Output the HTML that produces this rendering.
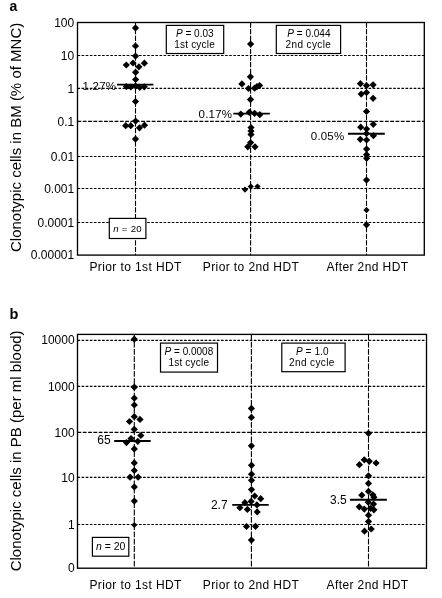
<!DOCTYPE html>
<html><head><meta charset="utf-8"><style>html,body{margin:0;padding:0;background:#fff;width:442px;height:598px;overflow:hidden;font-family:"Liberation Sans",sans-serif}</style></head><body>
<svg width="442" height="598" viewBox="0 0 442 598" style="display:block;filter:grayscale(1)">
<rect x="0" y="0" width="442" height="598" fill="#fff"/>
<line x1="77.5" y1="55.5" x2="424.3" y2="55.5" stroke="#000" stroke-width="1.15" stroke-dasharray="2.6 1.5"/>
<line x1="77.5" y1="88.4" x2="424.3" y2="88.4" stroke="#000" stroke-width="1.15" stroke-dasharray="2.6 1.5"/>
<line x1="77.5" y1="121.4" x2="424.3" y2="121.4" stroke="#000" stroke-width="1.15" stroke-dasharray="3.8 1.5"/>
<line x1="77.5" y1="156.5" x2="424.3" y2="156.5" stroke="#000" stroke-width="1.15" stroke-dasharray="2.6 1.5"/>
<line x1="77.5" y1="188.5" x2="424.3" y2="188.5" stroke="#000" stroke-width="1.15" stroke-dasharray="2.6 1.5"/>
<line x1="77.5" y1="222.5" x2="424.3" y2="222.5" stroke="#000" stroke-width="1.15" stroke-dasharray="2.6 1.5"/>
<line x1="135.5" y1="22.5" x2="135.5" y2="255.1" stroke="#000" stroke-width="1.1" stroke-dasharray="5.2 1.4"/>
<line x1="250.6" y1="22.5" x2="250.6" y2="255.1" stroke="#000" stroke-width="1.1" stroke-dasharray="5.2 1.4"/>
<line x1="366.5" y1="22.5" x2="366.5" y2="255.1" stroke="#000" stroke-width="1.1" stroke-dasharray="5.2 1.4"/>
<rect x="166.3" y="25.4" width="57.40" height="28.10" fill="#fff" stroke="#000" stroke-width="1.2"/>
<text x="194.8" y="36.9" text-anchor="middle" font-size="10" letter-spacing="0" font-family="Liberation Sans, sans-serif"><tspan font-style="italic">P</tspan> = 0.03</text>
<text x="194.6" y="47.8" text-anchor="middle" font-size="10" letter-spacing="0.2" font-family="Liberation Sans, sans-serif">1st cycle</text>
<rect x="276.3" y="25.4" width="64.30" height="28.10" fill="#fff" stroke="#000" stroke-width="1.2"/>
<text x="308.9" y="36.9" text-anchor="middle" font-size="10" letter-spacing="0" font-family="Liberation Sans, sans-serif"><tspan font-style="italic">P</tspan> = 0.044</text>
<text x="308.4" y="47.8" text-anchor="middle" font-size="10" letter-spacing="0.4" font-family="Liberation Sans, sans-serif">2nd cycle</text>
<rect x="109.3" y="218.4" width="36.60" height="20.10" fill="#fff" stroke="#000" stroke-width="1.2"/>
<text x="127.6" y="232.4" text-anchor="middle" font-size="9.6" letter-spacing="0.25" font-family="Liberation Sans, sans-serif"><tspan font-style="italic">n</tspan> = 20</text>
<rect x="77.5" y="22.5" width="346.80" height="232.60" fill="none" stroke="#000" stroke-width="1.35"/>
<text x="74.2" y="26.80" text-anchor="end" font-size="12" font-family="Liberation Sans, sans-serif">100</text>
<text x="74.2" y="59.80" text-anchor="end" font-size="12" font-family="Liberation Sans, sans-serif">10</text>
<text x="74.2" y="92.70" text-anchor="end" font-size="12" font-family="Liberation Sans, sans-serif">1</text>
<text x="74.2" y="125.70" text-anchor="end" font-size="12" font-family="Liberation Sans, sans-serif">0.1</text>
<text x="74.2" y="160.80" text-anchor="end" font-size="12" font-family="Liberation Sans, sans-serif">0.01</text>
<text x="74.2" y="192.80" text-anchor="end" font-size="12" font-family="Liberation Sans, sans-serif">0.001</text>
<text x="74.2" y="226.80" text-anchor="end" font-size="12" font-family="Liberation Sans, sans-serif">0.0001</text>
<text x="74.2" y="259.10" text-anchor="end" font-size="12" font-family="Liberation Sans, sans-serif">0.00001</text>
<line x1="117.0" y1="84.6" x2="153.5" y2="84.6" stroke="#000" stroke-width="1.9"/>
<line x1="233.3" y1="113.6" x2="269.8" y2="113.6" stroke="#000" stroke-width="1.9"/>
<line x1="348.0" y1="133.7" x2="384.8" y2="133.7" stroke="#000" stroke-width="1.9"/>
<text x="116.2" y="89.6" text-anchor="end" font-size="11.5" letter-spacing="0.2" font-family="Liberation Sans, sans-serif">1.27%</text>
<text x="232.2" y="118.0" text-anchor="end" font-size="11.5" letter-spacing="0.2" font-family="Liberation Sans, sans-serif">0.17%</text>
<text x="344.4" y="139.8" text-anchor="end" font-size="11.5" letter-spacing="0.2" font-family="Liberation Sans, sans-serif">0.05%</text>
<g fill="#000">
<path d="M135.50 24.30L139.10 27.90L135.50 31.50L131.90 27.90Z"/>
<path d="M135.50 42.40L139.10 46.00L135.50 49.60L131.90 46.00Z"/>
<path d="M135.50 52.50L139.10 56.10L135.50 59.70L131.90 56.10Z"/>
<path d="M126.30 61.40L129.90 65.00L126.30 68.60L122.70 65.00Z"/>
<path d="M133.00 59.40L136.60 63.00L133.00 66.60L129.40 63.00Z"/>
<path d="M138.90 63.20L142.50 66.80L138.90 70.40L135.30 66.80Z"/>
<path d="M144.40 59.60L148.00 63.20L144.40 66.80L140.80 63.20Z"/>
<path d="M135.60 68.70L139.20 72.30L135.60 75.90L132.00 72.30Z"/>
<path d="M135.60 75.90L139.20 79.50L135.60 83.10L132.00 79.50Z"/>
<path d="M126.30 83.00L129.90 86.60L126.30 90.20L122.70 86.60Z"/>
<path d="M130.80 83.40L134.40 87.00L130.80 90.60L127.20 87.00Z"/>
<path d="M135.50 82.40L139.10 86.00L135.50 89.60L131.90 86.00Z"/>
<path d="M139.80 83.70L143.40 87.30L139.80 90.90L136.20 87.30Z"/>
<path d="M144.30 83.20L147.90 86.80L144.30 90.40L140.70 86.80Z"/>
<path d="M135.50 97.90L139.10 101.50L135.50 105.10L131.90 101.50Z"/>
<path d="M135.60 117.50L139.20 121.10L135.60 124.70L132.00 121.10Z"/>
<path d="M125.70 122.10L129.30 125.70L125.70 129.30L122.10 125.70Z"/>
<path d="M130.70 122.10L134.30 125.70L130.70 129.30L127.10 125.70Z"/>
<path d="M139.50 124.20L143.10 127.80L139.50 131.40L135.90 127.80Z"/>
<path d="M144.50 121.60L148.10 125.20L144.50 128.80L140.90 125.20Z"/>
<path d="M135.50 135.50L139.10 139.10L135.50 142.70L131.90 139.10Z"/>
<path d="M250.60 40.50L254.20 44.10L250.60 47.70L247.00 44.10Z"/>
<path d="M250.40 73.20L254.00 76.80L250.40 80.40L246.80 76.80Z"/>
<path d="M241.90 80.30L245.50 83.90L241.90 87.50L238.30 83.90Z"/>
<path d="M248.50 84.90L252.10 88.50L248.50 92.10L244.90 88.50Z"/>
<path d="M254.60 84.60L258.20 88.20L254.60 91.80L251.00 88.20Z"/>
<path d="M256.90 83.00L260.50 86.60L256.90 90.20L253.30 86.60Z"/>
<path d="M259.60 81.90L263.20 85.50L259.60 89.10L256.00 85.50Z"/>
<path d="M250.50 96.00L254.10 99.60L250.50 103.20L246.90 99.60Z"/>
<path d="M240.80 110.50L244.40 114.10L240.80 117.70L237.20 114.10Z"/>
<path d="M249.30 108.70L252.90 112.30L249.30 115.90L245.70 112.30Z"/>
<path d="M254.60 109.70L258.20 113.30L254.60 116.90L251.00 113.30Z"/>
<path d="M259.80 111.10L263.40 114.70L259.80 118.30L256.20 114.70Z"/>
<path d="M251.00 124.00L254.60 127.60L251.00 131.20L247.40 127.60Z"/>
<path d="M251.00 127.40L254.60 131.00L251.00 134.60L247.40 131.00Z"/>
<path d="M251.00 130.80L254.60 134.40L251.00 138.00L247.40 134.40Z"/>
<path d="M250.60 139.00L254.20 142.60L250.60 146.20L247.00 142.60Z"/>
<path d="M247.80 143.20L251.40 146.80L247.80 150.40L244.20 146.80Z"/>
<path d="M255.00 143.20L258.60 146.80L255.00 150.40L251.40 146.80Z"/>
<path d="M245.00 186.50L248.10 189.60L245.00 192.70L241.90 189.60Z"/>
<path d="M250.80 183.40L253.90 186.50L250.80 189.60L247.70 186.50Z"/>
<path d="M257.50 183.40L260.60 186.50L257.50 189.60L254.40 186.50Z"/>
<path d="M360.40 80.10L364.00 83.70L360.40 87.30L356.80 83.70Z"/>
<path d="M366.50 82.00L370.10 85.60L366.50 89.20L362.90 85.60Z"/>
<path d="M373.10 81.20L376.70 84.80L373.10 88.40L369.50 84.80Z"/>
<path d="M361.20 90.50L364.80 94.10L361.20 97.70L357.60 94.10Z"/>
<path d="M366.50 88.90L370.10 92.50L366.50 96.10L362.90 92.50Z"/>
<path d="M373.10 94.70L376.70 98.30L373.10 101.90L369.50 98.30Z"/>
<path d="M366.50 107.90L370.10 111.50L366.50 115.10L362.90 111.50Z"/>
<path d="M373.30 120.70L376.90 124.30L373.30 127.90L369.70 124.30Z"/>
<path d="M360.70 123.60L364.30 127.20L360.70 130.80L357.10 127.20Z"/>
<path d="M366.60 125.40L370.20 129.00L366.60 132.60L363.00 129.00Z"/>
<path d="M366.50 129.90L370.10 133.50L366.50 137.10L362.90 133.50Z"/>
<path d="M373.40 132.10L377.00 135.70L373.40 139.30L369.80 135.70Z"/>
<path d="M360.30 135.70L363.90 139.30L360.30 142.90L356.70 139.30Z"/>
<path d="M366.60 136.40L370.20 140.00L366.60 143.60L363.00 140.00Z"/>
<path d="M366.60 145.50L370.20 149.10L366.60 152.70L363.00 149.10Z"/>
<path d="M366.60 151.10L370.20 154.70L366.60 158.30L363.00 154.70Z"/>
<path d="M366.60 154.70L370.20 158.30L366.60 161.90L363.00 158.30Z"/>
<path d="M366.50 176.50L370.10 180.10L366.50 183.70L362.90 180.10Z"/>
<path d="M366.50 207.00L369.60 210.10L366.50 213.20L363.40 210.10Z"/>
<path d="M366.50 221.20L370.10 224.80L366.50 228.40L362.90 224.80Z"/>
</g>
<text x="135.6" y="271.0" text-anchor="middle" font-size="12" letter-spacing="0.4" font-family="Liberation Sans, sans-serif">Prior to 1st HDT</text>
<text x="251.0" y="271.0" text-anchor="middle" font-size="12" letter-spacing="0.4" font-family="Liberation Sans, sans-serif">Prior to 2nd HDT</text>
<text x="367.5" y="271.0" text-anchor="middle" font-size="12" letter-spacing="0.4" font-family="Liberation Sans, sans-serif">After 2nd HDT</text>
<text transform="translate(21.2,137.4) rotate(-90)" text-anchor="middle" font-size="15" font-family="Liberation Sans, sans-serif">Clonotypic cells in BM (% of MNC)</text>
<text x="9.6" y="10.6" font-size="14" font-weight="bold" font-family="Liberation Sans, sans-serif">a</text>
<line x1="77.5" y1="340.4" x2="426.5" y2="340.4" stroke="#000" stroke-width="1.15" stroke-dasharray="2.6 1.5"/>
<line x1="77.5" y1="386.4" x2="426.5" y2="386.4" stroke="#000" stroke-width="1.15" stroke-dasharray="2.6 1.5"/>
<line x1="77.5" y1="432.4" x2="426.5" y2="432.4" stroke="#000" stroke-width="1.15" stroke-dasharray="3.8 1.5"/>
<line x1="77.5" y1="477.4" x2="426.5" y2="477.4" stroke="#000" stroke-width="1.15" stroke-dasharray="2.6 1.5"/>
<line x1="77.5" y1="524.5" x2="426.5" y2="524.5" stroke="#000" stroke-width="1.15" stroke-dasharray="2.6 1.5"/>
<line x1="134.3" y1="334.4" x2="134.3" y2="568.2" stroke="#000" stroke-width="1.1" stroke-dasharray="5.8 1.5"/>
<line x1="251.4" y1="334.4" x2="251.4" y2="568.2" stroke="#000" stroke-width="1.1" stroke-dasharray="5.8 1.5"/>
<line x1="368.5" y1="334.4" x2="368.5" y2="568.2" stroke="#000" stroke-width="1.1" stroke-dasharray="5.8 1.5"/>
<rect x="160.5" y="343.1" width="57.00" height="29.00" fill="#fff" stroke="#000" stroke-width="1.2"/>
<text x="188.9" y="354.9" text-anchor="middle" font-size="10" letter-spacing="0" font-family="Liberation Sans, sans-serif"><tspan font-style="italic">P</tspan> = 0.0008</text>
<text x="188.8" y="366.3" text-anchor="middle" font-size="10" letter-spacing="0.2" font-family="Liberation Sans, sans-serif">1st cycle</text>
<rect x="281.8" y="343.1" width="63.30" height="28.60" fill="#fff" stroke="#000" stroke-width="1.2"/>
<text x="312.3" y="354.9" text-anchor="middle" font-size="10" letter-spacing="0.1" font-family="Liberation Sans, sans-serif"><tspan font-style="italic">P</tspan> = 1.0</text>
<text x="311.9" y="366.3" text-anchor="middle" font-size="10" letter-spacing="0.4" font-family="Liberation Sans, sans-serif">2nd cycle</text>
<rect x="92.4" y="537.4" width="36.40" height="18.80" fill="#fff" stroke="#000" stroke-width="1.2"/>
<text x="110.7" y="550.1" text-anchor="middle" font-size="10.5" letter-spacing="0" font-family="Liberation Sans, sans-serif"><tspan font-style="italic">n</tspan> = 20</text>
<rect x="77.5" y="334.4" width="349.00" height="233.80" fill="none" stroke="#000" stroke-width="1.35"/>
<text x="74.6" y="344.20" text-anchor="end" font-size="12" font-family="Liberation Sans, sans-serif">10000</text>
<text x="74.6" y="390.70" text-anchor="end" font-size="12" font-family="Liberation Sans, sans-serif">1000</text>
<text x="74.6" y="436.70" text-anchor="end" font-size="12" font-family="Liberation Sans, sans-serif">100</text>
<text x="74.6" y="481.70" text-anchor="end" font-size="12" font-family="Liberation Sans, sans-serif">10</text>
<text x="74.6" y="528.80" text-anchor="end" font-size="12" font-family="Liberation Sans, sans-serif">1</text>
<text x="74.6" y="571.90" text-anchor="end" font-size="12" font-family="Liberation Sans, sans-serif">0</text>
<line x1="114.2" y1="441.0" x2="150.7" y2="441.0" stroke="#000" stroke-width="1.9"/>
<line x1="232.2" y1="504.9" x2="268.7" y2="504.9" stroke="#000" stroke-width="1.9"/>
<line x1="350.1" y1="499.7" x2="386.9" y2="499.7" stroke="#000" stroke-width="1.9"/>
<text x="110.6" y="443.7" text-anchor="end" font-size="12" letter-spacing="0" font-family="Liberation Sans, sans-serif">65</text>
<text x="227.6" y="508.8" text-anchor="end" font-size="12" letter-spacing="0" font-family="Liberation Sans, sans-serif">2.7</text>
<text x="346.8" y="503.7" text-anchor="end" font-size="12" letter-spacing="0" font-family="Liberation Sans, sans-serif">3.5</text>
<g fill="#000">
<path d="M134.30 335.60L137.90 339.20L134.30 342.80L130.70 339.20Z"/>
<path d="M134.30 383.60L137.90 387.20L134.30 390.80L130.70 387.20Z"/>
<path d="M134.30 394.60L137.90 398.20L134.30 401.80L130.70 398.20Z"/>
<path d="M134.30 401.40L137.90 405.00L134.30 408.60L130.70 405.00Z"/>
<path d="M134.30 413.10L137.90 416.70L134.30 420.30L130.70 416.70Z"/>
<path d="M140.00 415.80L143.60 419.40L140.00 423.00L136.40 419.40Z"/>
<path d="M129.50 417.90L133.10 421.50L129.50 425.10L125.90 421.50Z"/>
<path d="M134.30 425.70L137.90 429.30L134.30 432.90L130.70 429.30Z"/>
<path d="M140.80 431.90L144.40 435.50L140.80 439.10L137.20 435.50Z"/>
<path d="M131.00 435.00L134.60 438.60L131.00 442.20L127.40 438.60Z"/>
<path d="M126.50 439.00L130.10 442.60L126.50 446.20L122.90 442.60Z"/>
<path d="M137.80 437.70L141.40 441.30L137.80 444.90L134.20 441.30Z"/>
<path d="M134.30 445.30L137.90 448.90L134.30 452.50L130.70 448.90Z"/>
<path d="M134.30 459.30L137.90 462.90L134.30 466.50L130.70 462.90Z"/>
<path d="M134.30 466.90L137.90 470.50L134.30 474.10L130.70 470.50Z"/>
<path d="M130.10 473.60L133.70 477.20L130.10 480.80L126.50 477.20Z"/>
<path d="M138.10 473.60L141.70 477.20L138.10 480.80L134.50 477.20Z"/>
<path d="M134.30 483.30L137.90 486.90L134.30 490.50L130.70 486.90Z"/>
<path d="M134.30 497.50L137.90 501.10L134.30 504.70L130.70 501.10Z"/>
<path d="M134.30 521.90L137.30 524.90L134.30 527.90L131.30 524.90Z"/>
<path d="M251.40 404.80L255.00 408.40L251.40 412.00L247.80 408.40Z"/>
<path d="M251.40 413.80L255.00 417.40L251.40 421.00L247.80 417.40Z"/>
<path d="M251.40 442.20L255.00 445.80L251.40 449.40L247.80 445.80Z"/>
<path d="M251.50 461.70L255.10 465.30L251.50 468.90L247.90 465.30Z"/>
<path d="M251.50 470.60L255.10 474.20L251.50 477.80L247.90 474.20Z"/>
<path d="M251.50 476.70L255.10 480.30L251.50 483.90L247.90 480.30Z"/>
<path d="M251.50 486.00L255.10 489.60L251.50 493.20L247.90 489.60Z"/>
<path d="M254.70 492.40L258.30 496.00L254.70 499.60L251.10 496.00Z"/>
<path d="M260.70 495.10L264.30 498.70L260.70 502.30L257.10 498.70Z"/>
<path d="M244.90 499.10L248.50 502.70L244.90 506.30L241.30 502.70Z"/>
<path d="M251.10 497.80L254.70 501.40L251.10 505.00L247.50 501.40Z"/>
<path d="M239.90 504.10L243.50 507.70L239.90 511.30L236.30 507.70Z"/>
<path d="M247.40 505.80L251.00 509.40L247.40 513.00L243.80 509.40Z"/>
<path d="M256.90 501.30L260.50 504.90L256.90 508.50L253.30 504.90Z"/>
<path d="M257.20 508.30L260.80 511.90L257.20 515.50L253.60 511.90Z"/>
<path d="M246.50 522.90L250.10 526.50L246.50 530.10L242.90 526.50Z"/>
<path d="M255.50 522.70L259.10 526.30L255.50 529.90L251.90 526.30Z"/>
<path d="M251.40 536.50L255.00 540.10L251.40 543.70L247.80 540.10Z"/>
<path d="M368.50 429.70L372.10 433.30L368.50 436.90L364.90 433.30Z"/>
<path d="M364.30 456.20L367.90 459.80L364.30 463.40L360.70 459.80Z"/>
<path d="M369.30 457.70L372.90 461.30L369.30 464.90L365.70 461.30Z"/>
<path d="M376.10 459.40L379.70 463.00L376.10 466.60L372.50 463.00Z"/>
<path d="M359.40 461.10L363.00 464.70L359.40 468.30L355.80 464.70Z"/>
<path d="M368.50 472.20L372.10 475.80L368.50 479.40L364.90 475.80Z"/>
<path d="M368.50 479.80L372.10 483.40L368.50 487.00L364.90 483.40Z"/>
<path d="M368.50 487.80L372.10 491.40L368.50 495.00L364.90 491.40Z"/>
<path d="M361.80 491.60L365.40 495.20L361.80 498.80L358.20 495.20Z"/>
<path d="M372.80 491.20L376.40 494.80L372.80 498.40L369.20 494.80Z"/>
<path d="M373.90 493.60L377.50 497.20L373.90 500.80L370.30 497.20Z"/>
<path d="M368.20 498.60L371.80 502.20L368.20 505.80L364.60 502.20Z"/>
<path d="M373.50 500.50L377.10 504.10L373.50 507.70L369.90 504.10Z"/>
<path d="M359.30 503.20L362.90 506.80L359.30 510.40L355.70 506.80Z"/>
<path d="M364.30 505.50L367.90 509.10L364.30 512.70L360.70 509.10Z"/>
<path d="M370.50 504.70L374.10 508.30L370.50 511.90L366.90 508.30Z"/>
<path d="M373.90 506.20L377.50 509.80L373.90 513.40L370.30 509.80Z"/>
<path d="M368.50 511.60L372.10 515.20L368.50 518.80L364.90 515.20Z"/>
<path d="M368.50 518.00L372.10 521.60L368.50 525.20L364.90 521.60Z"/>
<path d="M364.50 527.60L368.10 531.20L364.50 534.80L360.90 531.20Z"/>
<path d="M371.20 525.40L374.80 529.00L371.20 532.60L367.60 529.00Z"/>
</g>
<text x="135.6" y="589.0" text-anchor="middle" font-size="12" letter-spacing="0.4" font-family="Liberation Sans, sans-serif">Prior to 1st HDT</text>
<text x="251.0" y="589.0" text-anchor="middle" font-size="12" letter-spacing="0.4" font-family="Liberation Sans, sans-serif">Prior to 2nd HDT</text>
<text x="367.5" y="589.0" text-anchor="middle" font-size="12" letter-spacing="0.4" font-family="Liberation Sans, sans-serif">After 2nd HDT</text>
<text transform="translate(21.2,450.9) rotate(-90)" text-anchor="middle" font-size="15" font-family="Liberation Sans, sans-serif">Clonotypic cells in PB (per ml blood)</text>
<text x="9.4" y="318.7" font-size="14.5" font-weight="bold" font-family="Liberation Sans, sans-serif">b</text>
</svg>
</body></html>
